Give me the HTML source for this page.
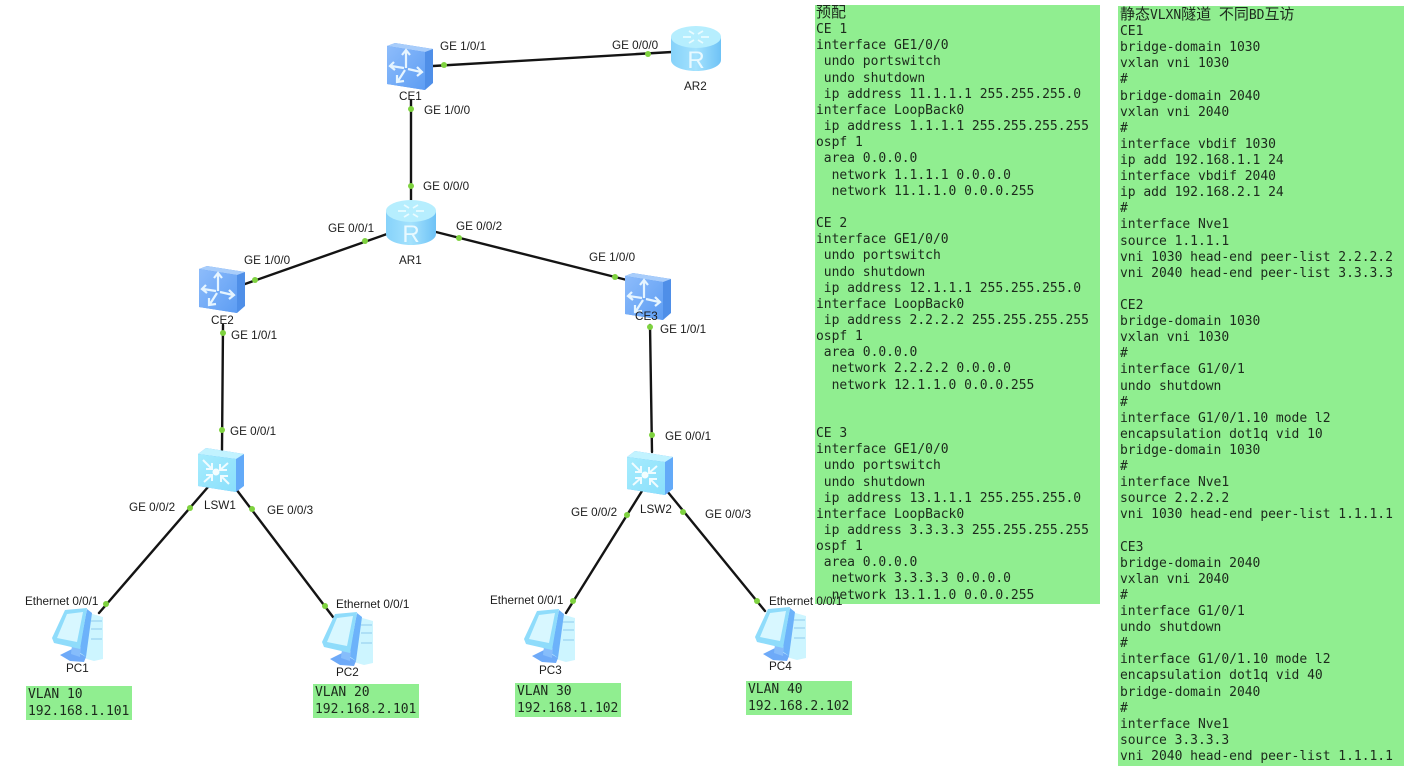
<!DOCTYPE html>
<html lang="zh">
<head>
<meta charset="utf-8">
<title>VXLAN topology</title>
<style>
html,body{margin:0;padding:0;background:#fff;width:1417px;height:779px;overflow:hidden}
svg.topo{position:absolute;left:0;top:0;filter:blur(.35px)}
.lbl{font:11.7px "Liberation Sans",sans-serif;fill:#1c1c1c}
.panel{position:absolute;background:#90ee90;box-sizing:border-box;margin:0;overflow:hidden}
pre{position:absolute;margin:0;font:13px/16.14px "DejaVu Sans Mono","Liberation Mono",monospace;color:#1c2a1c;letter-spacing:-.03px;filter:blur(.3px)}
.cj{font:15px/16px "Noto Sans CJK SC","WenQuanYi Zen Hei",sans-serif}
.vl{position:absolute;background:#90ee90;width:106px;height:34px}
.vl pre{left:2px;top:0;line-height:17px}
</style>
</head>
<body>
<svg class="topo" width="1417" height="779" viewBox="0 0 1417 779" xmlns="http://www.w3.org/2000/svg">
<defs>
<linearGradient id="rt" x1="0" x2="1" y1="0" y2="0"><stop offset="0" stop-color="#86d2fa"/><stop offset=".5" stop-color="#a4e2fd"/><stop offset="1" stop-color="#6ec2f6"/></linearGradient>
<linearGradient id="cb" x1="0" x2="1" y1="0" y2="1"><stop offset="0" stop-color="#8dbcfb"/><stop offset="1" stop-color="#5d9df3"/></linearGradient>
<linearGradient id="l3" x1="0" x2="1" y1="0" y2="1"><stop offset="0" stop-color="#a6ecfd"/><stop offset="1" stop-color="#8adffc"/></linearGradient>
<g id="router">
<path d="M0 11V34C0 40 11 45 25 45S50 40 50 34V11Z" fill="url(#rt)"/>
<ellipse cx="25" cy="11" rx="25" ry="11" fill="#b6eefe"/>
<g fill="none" stroke="#e9fbff" stroke-width="1.8"><path d="M12 11H20M30 11H38M18 5L23 8M32 5L27 8M18 17L23 14M32 17L27 14"/></g>
<text x="25" y="42" font-family="Liberation Sans,sans-serif" font-size="24" fill="#e8f9ff" text-anchor="middle">R</text>
</g>
<g id="sw">
<path d="M0 3L8 0L46 6V40L38 47L0 41Z" fill="#4f8fe8"/>
<path d="M0 3L8 0L46 6L38 9Z" fill="#a8cdfb"/>
<path d="M0 3L38 9V47L0 41Z" fill="url(#cb)"/>
<g fill="none" stroke="#e6f5ff" stroke-width="2.2"><path d="M17 25L4 23M7 19L3 23L8 27M19 25L19 8M15 12L19 7L23 12M21 26L34 29M30 24L35 29L30 33M18 27L11 38M10 32L10 39L17 38"/></g>
</g>
<g id="l3sw">
<path d="M0 6L8 0L46 6V38L38 44L0 38Z" fill="#63aaf8"/>
<path d="M0 6L8 0L46 6L38 11Z" fill="#c2f3ff"/>
<path d="M0 6L38 11V44L0 38Z" fill="url(#l3)"/>
<g fill="none" stroke="#f0fcff" stroke-width="2"><path d="M5 12L14 21M30 15L22 22M6 34L14 27M31 36L23 28M14 15V21H8M22 16V22H29M14 33V27H8M23 34V28H30"/></g>
<circle cx="18" cy="24" r="3.5" fill="#f4feff"/>
</g>
<g id="pc">
<path d="M30 4L51 10V52L42 54L28 50Z" fill="#cdf5ff"/>
<path d="M35 2L40 6L34 50L27 45Z" fill="#6cb2fa"/>
<path d="M8 48L20 42L34 50L32 55L18 54Z" fill="#6eaaf8"/>
<path d="M20 38L29 40L28 50L19 47Z" fill="#86bdfb"/>
<path d="M13 3L35 1L28 42L2 36L0 31Z" fill="#8fdcfb"/>
<path d="M15 7L31 5L25 35L5 31Z" fill="#d8f7ff"/>
<path d="M39 14H50M39 22H50M39 32H50" stroke="#8fcbec" stroke-width="1"/>
</g>
</defs>

<g stroke="#141414" stroke-width="2.4" fill="none" stroke-linecap="round">
<path d="M433 66L672 52"/>
<path d="M411 100V200"/>
<path d="M387 234L245 284"/>
<path d="M436 232L625 279.5"/>
<path d="M223 325L222 450"/>
<path d="M650 325L652 452"/>
<path d="M208 487L99 613"/>
<path d="M236 489L333 617"/>
<path d="M642 491L566 613"/>
<path d="M667 491L765 611"/>
</g>

<use href="#sw" x="387" y="43"/>
<use href="#router" x="671" y="26"/>
<use href="#router" x="386" y="200"/>
<use href="#sw" x="199" y="266"/>
<use href="#sw" x="625" y="273"/>
<use href="#l3sw" x="198" y="448"/>
<use href="#l3sw" x="627" y="451"/>
<use href="#pc" x="52" y="607"/>
<use href="#pc" x="322" y="611"/>
<use href="#pc" x="524" y="608"/>
<use href="#pc" x="755" y="606"/>

<g fill="#7ed23f">
<circle cx="444" cy="65" r="3"/><circle cx="648" cy="54" r="3"/>
<circle cx="411" cy="109" r="3"/><circle cx="411" cy="186" r="3"/>
<circle cx="365" cy="241" r="3"/><circle cx="255" cy="280" r="3"/>
<circle cx="459" cy="238" r="3"/><circle cx="615" cy="277" r="3"/>
<circle cx="223" cy="333" r="3"/><circle cx="222" cy="430" r="3"/>
<circle cx="650" cy="327" r="3"/><circle cx="652" cy="435" r="3"/>
<circle cx="190" cy="508" r="3"/><circle cx="106" cy="604" r="3"/>
<circle cx="252" cy="509" r="3"/><circle cx="325" cy="606" r="3"/>
<circle cx="627" cy="515" r="3"/><circle cx="573" cy="601" r="3"/>
<circle cx="683" cy="512" r="3"/><circle cx="757" cy="601" r="3"/>
</g>

<g>
<text class="lbl" x="440" y="50">GE 1/0/1</text>
<text class="lbl" x="612" y="49">GE 0/0/0</text>
<text class="lbl" x="684" y="90">AR2</text>
<text class="lbl" x="399" y="100">CE1</text>
<text class="lbl" x="424" y="114">GE 1/0/0</text>
<text class="lbl" x="423" y="190">GE 0/0/0</text>
<text class="lbl" x="328" y="232">GE 0/0/1</text>
<text class="lbl" x="456" y="230">GE 0/0/2</text>
<text class="lbl" x="399" y="264">AR1</text>
<text class="lbl" x="244" y="264">GE 1/0/0</text>
<text class="lbl" x="589" y="261">GE 1/0/0</text>
<text class="lbl" x="211" y="324">CE2</text>
<text class="lbl" x="635" y="320">CE3</text>
<text class="lbl" x="231" y="339">GE 1/0/1</text>
<text class="lbl" x="660" y="333">GE 1/0/1</text>
<text class="lbl" x="230" y="435">GE 0/0/1</text>
<text class="lbl" x="665" y="440">GE 0/0/1</text>
<text class="lbl" x="129" y="511">GE 0/0/2</text>
<text class="lbl" x="204" y="509">LSW1</text>
<text class="lbl" x="267" y="514">GE 0/0/3</text>
<text class="lbl" x="571" y="516">GE 0/0/2</text>
<text class="lbl" x="640" y="513">LSW2</text>
<text class="lbl" x="705" y="518">GE 0/0/3</text>
<text class="lbl" x="25" y="605">Ethernet 0/0/1</text>
<text class="lbl" x="336" y="608">Ethernet 0/0/1</text>
<text class="lbl" x="490" y="604">Ethernet 0/0/1</text>
<text class="lbl" x="66" y="672">PC1</text>
<text class="lbl" x="336" y="676">PC2</text>
<text class="lbl" x="539" y="674">PC3</text>
<text class="lbl" x="769" y="670">PC4</text>
</g>
</svg>

<div class="panel" style="left:815px;top:5px;width:285px;height:599px">
<pre style="left:1px;top:-1px;line-height:16.15px"><span class="cj">预配</span>
CE 1
interface GE1/0/0
 undo portswitch
 undo shutdown
 ip address 11.1.1.1 255.255.255.0
interface LoopBack0
 ip address 1.1.1.1 255.255.255.255
ospf 1
 area 0.0.0.0
  network 1.1.1.1 0.0.0.0
  network 11.1.1.0 0.0.0.255

CE 2
interface GE1/0/0
 undo portswitch
 undo shutdown
 ip address 12.1.1.1 255.255.255.0
interface LoopBack0
 ip address 2.2.2.2 255.255.255.255
ospf 1
 area 0.0.0.0
  network 2.2.2.2 0.0.0.0
  network 12.1.1.0 0.0.0.255


CE 3
interface GE1/0/0
 undo portswitch
 undo shutdown
 ip address 13.1.1.1 255.255.255.0
interface LoopBack0
 ip address 3.3.3.3 255.255.255.255
ospf 1
 area 0.0.0.0
  network 3.3.3.3 0.0.0.0
  network 13.1.1.0 0.0.0.255</pre>
</div>

<svg style="position:absolute;left:0;top:0;pointer-events:none;filter:blur(.35px)" width="1417" height="779" xmlns="http://www.w3.org/2000/svg"><text class="lbl" x="769" y="605">Ethernet 0/0/1</text></svg>

<div class="panel" style="left:1118px;top:6px;width:286px;height:760px">
<pre style="left:2px;top:0;line-height:16.11px"><span class="cj">静态</span>VLXN<span class="cj">隧道</span> <span class="cj">不同</span>BD<span class="cj">互访</span>
CE1
bridge-domain 1030
vxlan vni 1030
#
bridge-domain 2040
vxlan vni 2040
#
interface vbdif 1030
ip add 192.168.1.1 24
interface vbdif 2040
ip add 192.168.2.1 24
#
interface Nve1
source 1.1.1.1
vni 1030 head-end peer-list 2.2.2.2
vni 2040 head-end peer-list 3.3.3.3

CE2
bridge-domain 1030
vxlan vni 1030
#
interface G1/0/1
undo shutdown
#
interface G1/0/1.10 mode l2
encapsulation dot1q vid 10
bridge-domain 1030
#
interface Nve1
source 2.2.2.2
vni 1030 head-end peer-list 1.1.1.1

CE3
bridge-domain 2040
vxlan vni 2040
#
interface G1/0/1
undo shutdown
#
interface G1/0/1.10 mode l2
encapsulation dot1q vid 40
bridge-domain 2040
#
interface Nve1
source 3.3.3.3
vni 2040 head-end peer-list 1.1.1.1</pre>
</div>

<div class="vl" style="left:26px;top:686px"><pre>VLAN 10
192.168.1.101</pre></div>
<div class="vl" style="left:313px;top:684px"><pre>VLAN 20
192.168.2.101</pre></div>
<div class="vl" style="left:515px;top:683px"><pre>VLAN 30
192.168.1.102</pre></div>
<div class="vl" style="left:746px;top:681px"><pre>VLAN 40
192.168.2.102</pre></div>
</body>
</html>
